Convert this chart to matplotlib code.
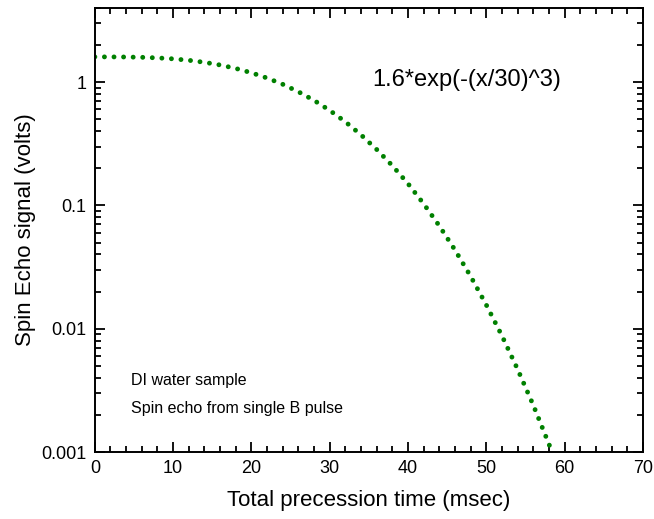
import matplotlib.pyplot as plt
from matplotlib.ticker import MultipleLocator, LogLocator, FixedLocator, FixedFormatter

plt.rcParams['font.family'] = ['Liberation Sans', 'DejaVu Sans']

# values (msec, volts)
t_ms = [0, 2, 4, 6, 8, 10, 12, 14, 16, 18, 20, 22, 24, 26, 28, 30,
        32, 34, 36, 38, 40, 42, 44, 46, 48, 50, 52, 54, 56, 58, 59]
signal = [1.6, 1.599, 1.596, 1.587, 1.57, 1.542, 1.501, 1.445, 1.375, 1.289,
          1.189, 1.078, 0.959, 0.834, 0.71, 0.589, 0.476, 0.373, 0.284, 0.21,
          0.15, 0.103, 0.0682, 0.0435, 0.0266, 0.0156, 0.00876, 0.00469,
          0.0024, 0.00116, 0.0008]
y_ticks = [0.001, 0.01, 0.1, 1]
y_labels = ['0.001', '0.01', '0.1', '1']

fig = plt.figure(figsize=(6.54, 5.19), dpi=100)
ax = fig.add_subplot(111)
fig.subplots_adjust(left=0.145, right=0.983, top=0.985, bottom=0.129)

# round dots, ~9.6 px apart
ax.plot(t_ms, signal, color='#008000', lw=3.5,
        linestyle=(0, (0.01, 1.96)), dash_capstyle='round')

ax.set_yscale('log')
ax.set_xlim(0, 70)
ax.set_ylim(0.001, 4)
ax.xaxis.set_major_locator(MultipleLocator(10))
ax.xaxis.set_minor_locator(MultipleLocator(2))
ax.yaxis.set_major_locator(FixedLocator(y_ticks))
ax.yaxis.set_major_formatter(FixedFormatter(y_labels))
ax.yaxis.set_minor_locator(LogLocator(base=10, subs=range(2, 10)))
ax.tick_params(which='both', direction='in', top=True, right=True,
               labelsize=13, width=1.3)
ax.tick_params(which='major', length=7, pad=6)
ax.tick_params(which='minor', length=4)
for s in ax.spines.values():
    s.set_linewidth(1.4)

ax.set_xlabel('Total precession time (msec)', fontsize=16, labelpad=9)
ax.set_ylabel('Spin Echo signal (volts)', fontsize=16, labelpad=4)

ax.text(0.679, 0.838, '1.6*exp(-(x/30)^3)', transform=ax.transAxes,
        fontsize=17, ha='center', va='center')
ax.text(0.066, 0.162, 'DI water sample', transform=ax.transAxes,
        fontsize=11.5, va='center')
ax.text(0.066, 0.097, 'Spin echo from single B pulse', transform=ax.transAxes,
        fontsize=11.5, va='center')

plt.savefig('out.png', dpi=100)
